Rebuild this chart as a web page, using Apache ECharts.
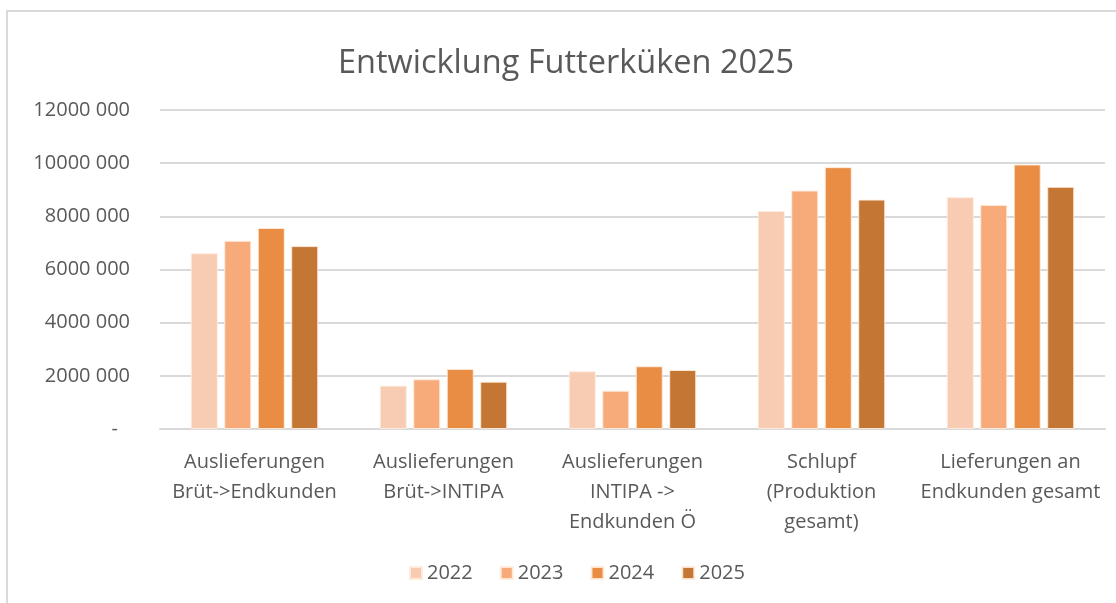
<!DOCTYPE html>
<html>
<head>
<meta charset="utf-8">
<script src="https://cdn.jsdelivr.net/npm/echarts@6/dist/echarts.min.js"></script>
<style>html,body{margin:0;padding:0;background:#fff;}#c{width:1116px;height:603px;}</style>
</head>
<body>
<div id="c"></div>
<script>
const categories = [
  "Auslieferungen\nBrüt->Endkunden",
  "Auslieferungen\nBrüt->INTIPA",
  "Auslieferungen\nINTIPA ->\nEndkunden Ö",
  "Schlupf\n(Produktion\ngesamt)",
  "Lieferungen an\nEndkunden gesamt"
];
const years = ["2022", "2023", "2024", "2025"];
const v2022 = [6610000, 1630000, 2170000, 8200000, 8720000];
const v2023 = [7080000, 1870000, 1440000, 8970000, 8430000];
const v2024 = [7560000, 2260000, 2360000, 9850000, 9950000];
const v2025 = [6880000, 1780000, 2220000, 8630000, 9110000];
const colors = ["#F8CBB3", "#F7AB7A", "#E88D43", "#C47634"];
const seriesValues = [v2022, v2023, v2024, v2025];

const FONT = "'Open Sans', sans-serif";
const chart = echarts.init(document.getElementById('c'), null, {renderer: 'canvas'});
chart.setOption({
  backgroundColor: '#fff',
  animation: false,
  graphic: [{
    type: 'rect', shape: {x: 7, y: 11, width: 1200, height: 700},
    style: {fill: 'none', stroke: '#d9d9d9', lineWidth: 2}, silent: true
  }],
  title: {
    text: 'Entwicklung Futterküken 2025',
    left: 333, top: 42,
    textStyle: {fontFamily: FONT, fontSize: 32.5, fontWeight: 'normal', color: '#595959'}
  },
  legend: {
    bottom: 15, left: 404,
    itemWidth: 12, itemHeight: 12, itemGap: 27,
    icon: 'rect',
    textStyle: {fontFamily: FONT, fontSize: 20, color: '#595959'},
    data: years
  },
  grid: {left: 160, right: 11, top: 110, bottom: 174, containLabel: false},
  xAxis: {
    type: 'category', data: categories,
    axisLine: {lineStyle: {color: '#d9d9d9', width: 2}},
    axisTick: {show: false},
    axisLabel: {fontFamily: FONT, fontSize: 20, color: '#595959', lineHeight: 30, margin: 18, interval: 0}
  },
  yAxis: {
    type: 'value', min: 0, max: 12000000, interval: 2000000,
    axisLine: {show: false}, axisTick: {show: false},
    splitLine: {lineStyle: {color: '#d9d9d9', width: 2}},
    axisLabel: {
      fontFamily: FONT, fontSize: 20, color: '#595959', margin: 30,
      formatter: v => v === 0 ? '{z|-}' : (v / 1000) + ' 000',
      rich: {z: {fontFamily: FONT, fontSize: 20, color: '#595959', padding: [0, 12, 0, 0]}}
    }
  },
  series: seriesValues.map((d, i) => ({
    name: years[i], type: 'bar', data: d,
    barWidth: 27, barGap: '24%',
    itemStyle: {color: colors[i], borderColor: 'rgba(255,235,220,0.9)', borderWidth: 1}
  }))
});
</script>
</body>
</html>
